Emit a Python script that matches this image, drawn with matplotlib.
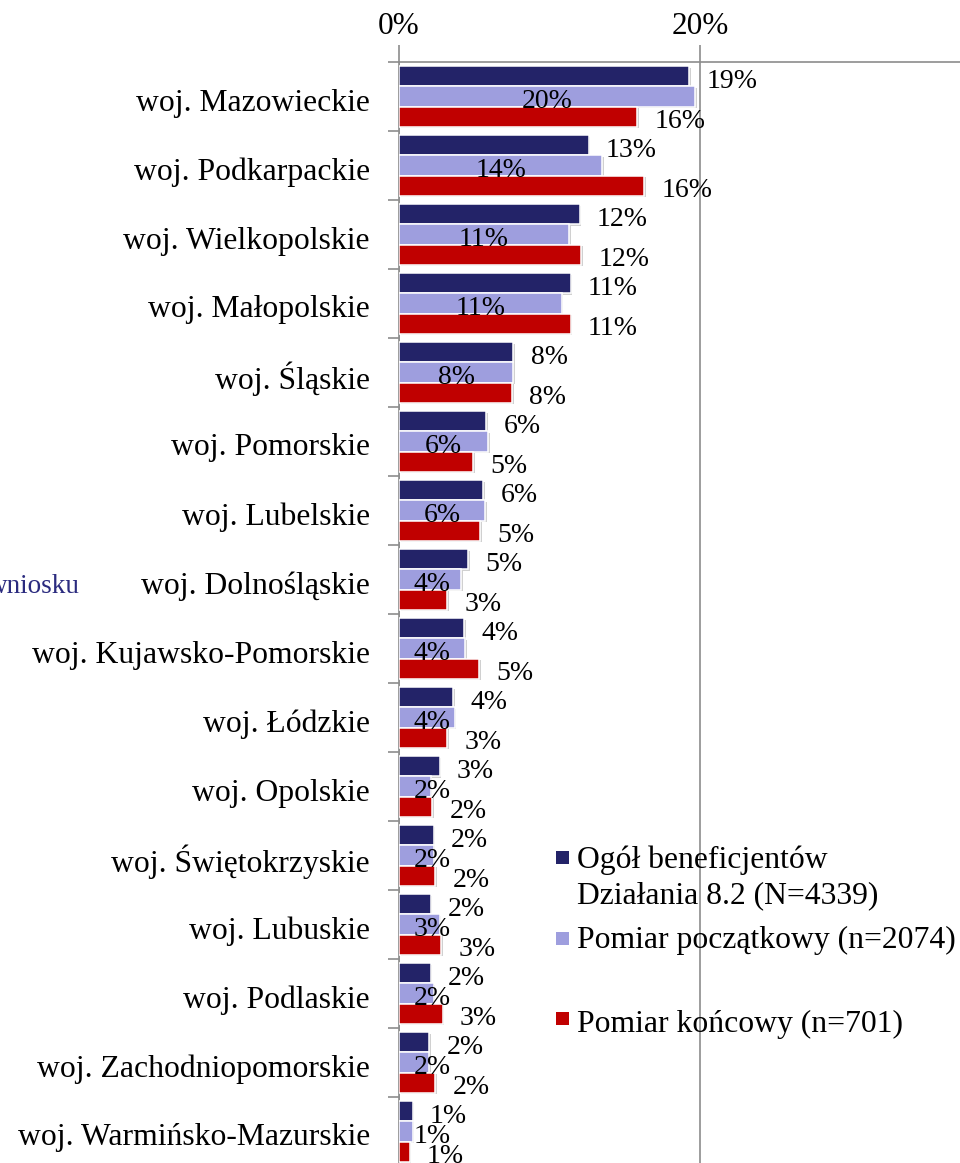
import matplotlib
matplotlib.use("Agg")
import matplotlib.pyplot as plt
import matplotlib.patheffects as pe
import matplotlib.transforms as mtransforms
from matplotlib.patches import Rectangle
import numpy as np

plt.rcParams['font.family'] = ['Liberation Serif', 'DejaVu Serif']

categories = ["woj. Mazowieckie", "woj. Podkarpackie", "woj. Wielkopolskie", "woj. Małopolskie",
              "woj. Śląskie", "woj. Pomorskie", "woj. Lubelskie", "woj. Dolnośląskie",
              "woj. Kujawsko-Pomorskie", "woj. Łódzkie", "woj. Opolskie", "woj. Świętokrzyskie",
              "woj. Lubuskie", "woj. Podlaskie", "woj. Zachodniopomorskie", "woj. Warmińsko-Mazurskie"]
ogol = [19.3, 12.6, 12.0, 11.4, 7.6, 5.8, 5.6, 4.6, 4.3, 3.6, 2.7, 2.3, 2.1, 2.1, 2.0, 0.9]
poczatkowy = [19.7, 13.5, 11.3, 10.8, 7.6, 5.9, 5.7, 4.1, 4.4, 3.7, 2.1, 2.3, 2.7, 2.3, 2.0, 0.9]
koncowy = [15.8, 16.3, 12.1, 11.4, 7.5, 4.9, 5.4, 3.2, 5.3, 3.2, 2.2, 2.4, 2.8, 2.9, 2.4, 0.7]
series_names = ["Ogół beneficjentów\nDziałania 8.2 (N=4339)", "Pomiar początkowy (n=2074)",
                "Pomiar końcowy (n=701)"]
x_ticks = [0, 20]
x_ticklabels = ["0%", "20%"]

C_DARK = "#232368"
C_LIGHT = "#9E9EDE"
C_RED = "#C00000"
C_AX = "#8C8C8C"

W, H = 960, 1163
fig = plt.figure(figsize=(W / 100, H / 100), dpi=100)


def fx(px):
    return px / W


def fy(py):
    return 1 - py / H


n = len(categories)
band = 69.0
ax_top = 62
ax_bot = ax_top + band * n
ax = fig.add_axes([fx(399), fy(ax_bot), fx(960) - fx(399), (ax_bot - ax_top) / H])
ax.set_xlim(0, (960 - 399) / 15.05)
ax.set_ylim(n - 0.5, -0.5)

y = np.arange(n)
h = 0.29
shadow = [pe.SimplePatchShadow(offset=(1.3, -1.3), shadow_rgbFace='#7a7a7a', alpha=0.35), pe.Normal()]
for vals, off, col in [(ogol, -h, C_DARK), (poczatkowy, 0, C_LIGHT), (koncowy, h, C_RED)]:
    bars = ax.barh(y + off, vals, height=h, color=col, edgecolor='white', linewidth=1.1, zorder=3)
    for b in bars:
        b.set_path_effects(shadow)

lab_fs = 20
dy = -3.5
for i in range(n):
    ax.annotate(f"{ogol[i]:.0f}%", (ogol[i], y[i] - h), xytext=(12.5, dy), textcoords='offset points',
                ha='left', va='center', fontsize=lab_fs, zorder=5)
    ax.annotate(f"{koncowy[i]:.0f}%", (koncowy[i], y[i] + h), xytext=(12.5, dy), textcoords='offset points',
                ha='left', va='center', fontsize=lab_fs, zorder=5)
    ax.annotate(f"{poczatkowy[i]:.0f}%", (max(poczatkowy[i] / 2, 2.2), y[i]), xytext=(0, dy),
                textcoords='offset points', ha='center', va='center', fontsize=lab_fs, zorder=5)

# axes styling
for s in ['right', 'bottom']:
    ax.spines[s].set_visible(False)
for s in ['top', 'left']:
    ax.spines[s].set_color(C_AX)
    ax.spines[s].set_linewidth(1.2)

ax.set_yticks(y)
ax.set_yticklabels(categories, fontsize=22.8)
ax.tick_params(axis='y', which='major', length=0, pad=21)
ax.set_yticks(np.arange(-0.5, n, 1), minor=True)
ax.tick_params(axis='y', which='minor', length=7.9, width=1.2, color=C_AX, direction='out')
shift = mtransforms.ScaledTranslation(0, -3 / 100, fig.dpi_scale_trans)
for lbl in ax.get_yticklabels():
    lbl.set_transform(lbl.get_transform() + shift)

ax.xaxis.tick_top()
ax.set_xticks(x_ticks)
ax.set_xticklabels(x_ticklabels, fontsize=22.5)
ax.tick_params(axis='x', length=12.2, width=1.2, color=C_AX, pad=3)
ax.grid(axis='x', color=C_AX, linewidth=1.2, zorder=0)
ax.set_axisbelow(True)

# legend (manual)
leg_cols = [C_DARK, C_LIGHT, C_RED]
sq_centers = [857, 938.5, 1018.5]
for col, cy in zip(leg_cols, sq_centers):
    fig.add_artist(Rectangle((fx(555.5), fy(cy + 6.5)), 13 / W, 13 / H, transform=fig.transFigure,
                             facecolor=col, edgecolor='none'))
fs_leg = 22.8
fig.text(fx(577), fy(868), "Ogół beneficjentów", fontsize=fs_leg, va='baseline', ha='left')
fig.text(fx(577), fy(903), "Działania 8.2 (N=4339)", fontsize=fs_leg, va='baseline', ha='left')
fig.text(fx(577), fy(948), series_names[1], fontsize=fs_leg, va='baseline', ha='left')
fig.text(fx(577), fy(1032), series_names[2], fontsize=fs_leg, va='baseline', ha='left')

# cropped text at left edge
fig.text(fx(80), fy(593), "wniosku", fontsize=19.5, va='baseline', ha='right', color="#2B2B7F")

fig.savefig("out.png", dpi=100)
